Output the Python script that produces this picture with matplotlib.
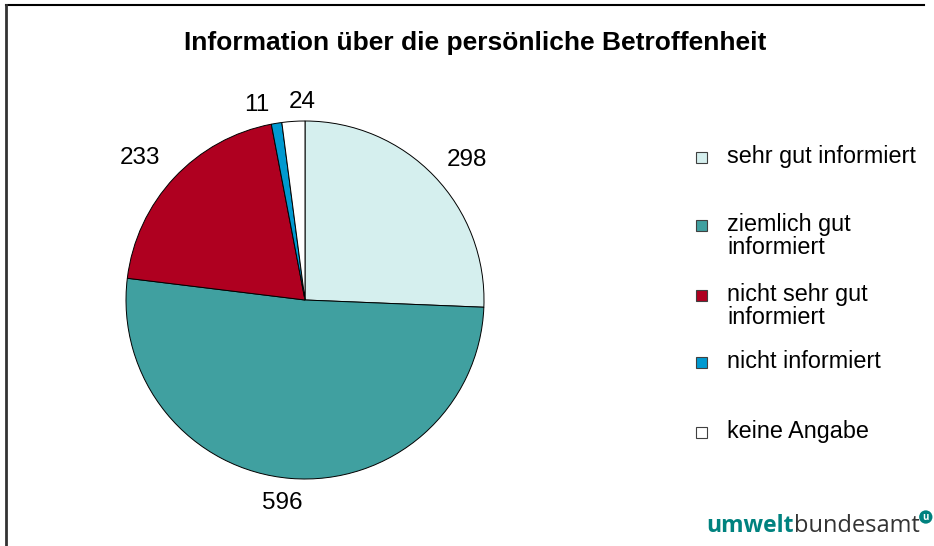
import matplotlib.pyplot as plt
from matplotlib.lines import Line2D
from matplotlib.patches import Rectangle

plt.rcParams['font.family'] = ['Liberation Sans', 'DejaVu Sans']

# daten
categories = ['sehr gut informiert', 'ziemlich gut\ninformiert', 'nicht sehr gut\ninformiert',
              'nicht informiert', 'keine Angabe']
values = [298, 596, 233, 11, 24]
colors = ['#D5EFEE', '#40A0A0', '#AF0020', '#0099D0', '#FFFFFF']
legend_y = [157, 225, 295, 362, 432]   # pixel von oben, erste zeile
# lage der zahlen (einheiten des kreisradius)
label_pos = [(0.905, 0.782), (-0.128, -1.134), (-0.922, 0.793), (-0.268, 1.09), (-0.017, 1.105)]

W, H = 934, 546
fig = plt.figure(figsize=(W / 100, H / 100), dpi=100)

# kreis: mitte (305, 300) px, radius 179 px
r = 179
side = 2.5 * r
ax = fig.add_axes([(305 - side / 2) / W, (H - 300 - side / 2) / H, side / W, side / H])
wedges, texts = ax.pie(values, labels=[str(v) for v in values], colors=colors,
                       startangle=90, counterclock=False,
                       wedgeprops=dict(edgecolor='black', linewidth=0.7),
                       textprops=dict(fontsize=17.5))
for t, p in zip(texts, label_pos):
    t.set_position(p)
    t.set_ha('center')
    t.set_va('center')
ax.set_xlim(-1.25, 1.25)
ax.set_ylim(-1.25, 1.25)

fig.text(475.5 / W, 1 - 43 / H, 'Information über die persönliche Betroffenheit',
         ha='center', va='center', fontsize=19, fontweight='bold')

# legende
for lab, col, y in zip(categories, colors, legend_y):
    fig.patches.append(Rectangle(((701 - 5.5) / W, 1 - (y + 5.5) / H), 11 / W, 11 / H,
                                 transform=fig.transFigure, facecolor=col,
                                 edgecolor='#404040', linewidth=0.8))
    fig.text(727 / W, 1 - (y - 12) / H, lab, ha='left', va='top', fontsize=16.8,
             linespacing=1.02)

# rahmen oben und links
fig.add_artist(Line2D([6 / W, 924 / W], [1 - 5 / H, 1 - 5 / H], color='black', lw=1.5))
fig.add_artist(Line2D([6 / W, 6 / W], [0, 1 - 5 / H], color='#333333', lw=2))

# logo
t1 = fig.text(706 / W, 1 - 532 / H, 'umwelt', fontsize=16.5, fontweight='bold',
              color='#00827F', family='Open Sans', va='baseline')
t2 = fig.text(0, 0, 'bundesamt', fontsize=17, color='#333333', family='Open Sans',
              va='baseline')
fig.canvas.draw()
bb = t1.get_window_extent()
t2.set_position((bb.x1 / W + 0.001, 1 - 532 / H))
fig.canvas.draw()
bb2 = t2.get_window_extent()
fig.text(bb2.x1 / W + 0.006, 1 - 517 / H, 'u', fontsize=7, fontweight='bold', color='white',
         ha='center', va='center', family='Open Sans',
         bbox=dict(boxstyle='circle,pad=0.12', facecolor='#00827F', edgecolor='none'))

fig.savefig('out.png', dpi=100)
